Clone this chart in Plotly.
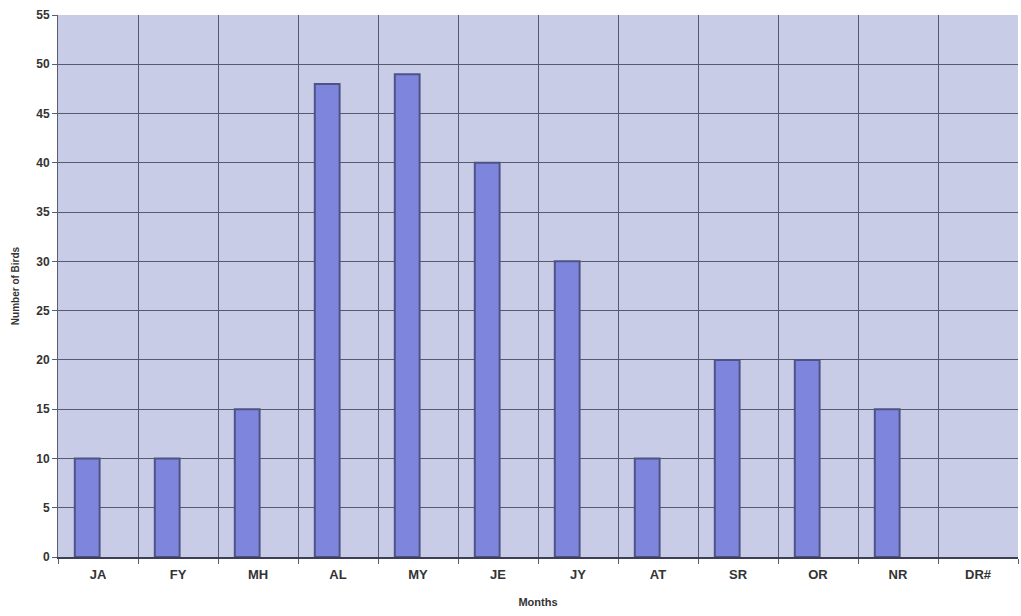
import plotly.graph_objects as go

months = ["JA", "FY", "MH", "AL", "MY", "JE", "JY", "AT", "SR", "OR", "NR", "DR#"]
birds = [10, 10, 15, 48, 49, 40, 30, 10, 20, 20, 15, 0]
y_ticks = list(range(0, 56, 5))

fig = go.Figure()
fig.add_trace(go.Bar(
    x=months, y=birds,
    width=0.31, offset=-0.29,
    marker=dict(color="#7d86dc",
                line=dict(color="#4d5385", width=[2 if v > 0 else 0 for v in birds])),
    hoverinfo="x+y",
))

fig.update_layout(
    width=1021, height=616,
    margin=dict(l=58, r=3, t=15, b=59, autoexpand=False),
    paper_bgcolor="white",
    plot_bgcolor="#c9cce6",
    showlegend=False,
    font=dict(family="Liberation Sans, Arial", color="#333333"),
)
fig.update_xaxes(
    type="category",
    automargin=False,
    tickson="boundaries",
    showgrid=True, gridcolor="#555a6c", gridwidth=1,
    ticks="outside", ticklen=5, tickcolor="#5a5e70",
    showline=True, linecolor="#3c3f55", linewidth=2,
    tickvals=months, ticktext=[f"<b>{m}</b>" for m in months],
    tickfont=dict(size=13, color="#333333"),
    ticklabelstandoff=4,
    title=dict(text="<b>Months</b>", font=dict(size=11, color="#333333"), standoff=18),
)
fig.update_yaxes(
    automargin=False,
    range=[0, 55], tickvals=y_ticks, ticktext=[f"<b>{v}</b>" for v in y_ticks],
    showgrid=True, gridcolor="#555a6c", gridwidth=1,
    ticks="outside", ticklen=5, tickcolor="#5a5e70",
    showline=True, linecolor="#5a5e70", linewidth=1,
    zeroline=False,
    tickfont=dict(size=12, color="#333333"),
    title=dict(text="<b>Number of Birds</b>", font=dict(size=10, color="#333333"), standoff=14),
)

fig.write_html("out.html", config={"displayModeBar": False},
               post_script="document.body.style.margin='0px';")
